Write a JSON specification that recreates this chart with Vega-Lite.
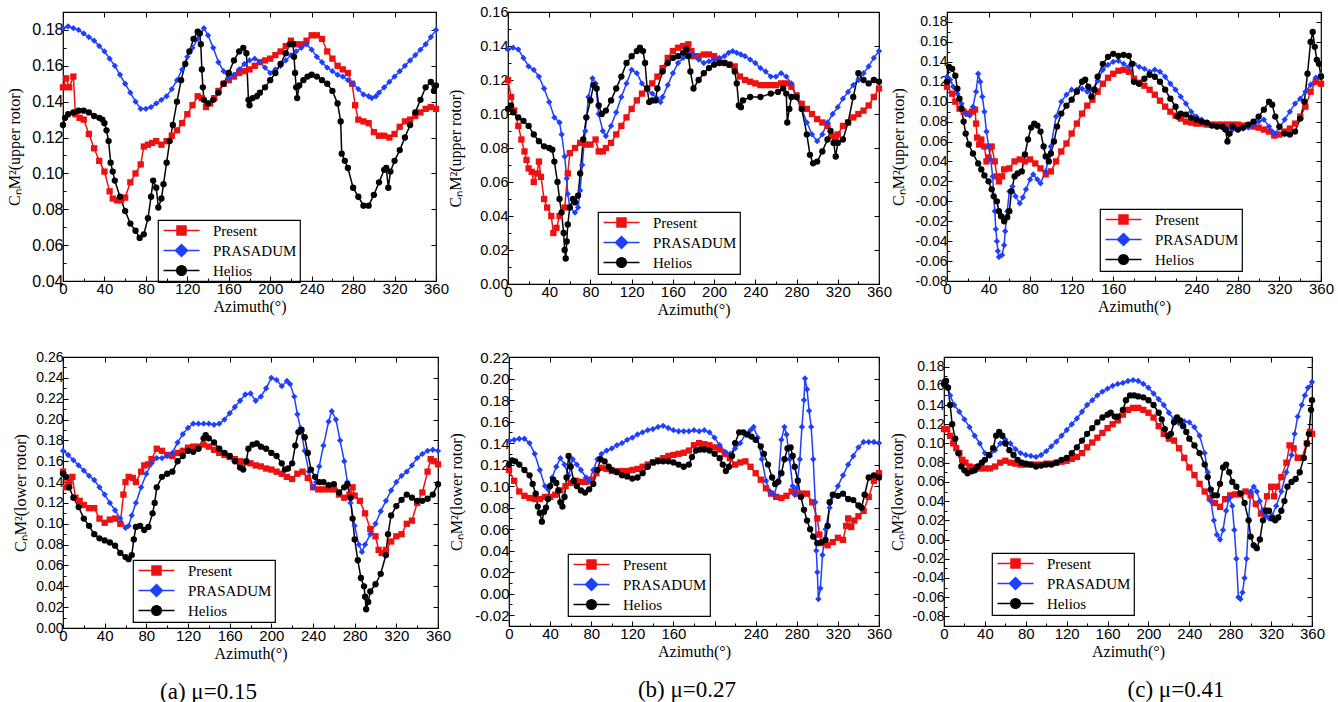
{
  "$schema": "https://vega.github.io/schema/vega-lite/v6.json",
  "background": "white",
  "padding": {"left": 5, "top": 3, "right": 0, "bottom": 0},
  "config": {
    "view": {"stroke": "black", "strokeWidth": 1.2},
    "axis": {
      "labelFont": "Liberation Sans", "labelFontSize": 15, "labelColor": "black",
      "titleFont": "Liberation Serif", "titleFontSize": 16, "titleFontWeight": "normal", "titleColor": "black",
      "domain": false, "tickColor": "black", "tickSize": -5, "tickWidth": 1, "grid": false,
      "labelFlush": false, "labelOverlap": false, "labelPadding": 5, "titlePadding": 2
    },
    "legend": {
      "orient": "none", "strokeColor": "black", "strokeWidth": 1.2, "padding": 3,
      "labelFont": "Liberation Serif", "labelFontSize": 15, "labelColor": "black",
      "symbolSize": 144, "symbolStrokeWidth": 1.5, "symbolOffset": 13, "labelOffset": 24, "rowPadding": 2
    },
    "title": {"font": "Liberation Serif", "fontSize": 23, "fontWeight": "normal", "color": "black"}
  },
  "datasets": {
    "a": [
      {"s":"P","az":0,"cn":0.148},{"s":"P","az":3,"cn":0.153},{"s":"P","az":6,"cn":0.148},{"s":"P","az":10,"cn":0.154},{"s":"P","az":12,"cn":0.133},{"s":"P","az":16,"cn":0.131},{"s":"P","az":20,"cn":0.130},{"s":"P","az":25,"cn":0.122},{"s":"P","az":30,"cn":0.114},{"s":"P","az":35,"cn":0.107},{"s":"P","az":40,"cn":0.101},{"s":"P","az":45,"cn":0.090},{"s":"P","az":48,"cn":0.086},{"s":"P","az":52,"cn":0.085},{"s":"P","az":56,"cn":0.085},{"s":"P","az":60,"cn":0.0865},{"s":"P","az":65,"cn":0.095},{"s":"P","az":70,"cn":0.100},{"s":"P","az":75,"cn":0.105},{"s":"P","az":78,"cn":0.115},{"s":"P","az":82,"cn":0.116},{"s":"P","az":86,"cn":0.117},{"s":"P","az":90,"cn":0.118},{"s":"P","az":95,"cn":0.116},{"s":"P","az":100,"cn":0.118},{"s":"P","az":105,"cn":0.121},{"s":"P","az":110,"cn":0.124},{"s":"P","az":115,"cn":0.128},{"s":"P","az":120,"cn":0.133},{"s":"P","az":125,"cn":0.138},{"s":"P","az":130,"cn":0.143},{"s":"P","az":134,"cn":0.142},{"s":"P","az":138,"cn":0.137},{"s":"P","az":142,"cn":0.139},{"s":"P","az":146,"cn":0.142},{"s":"P","az":150,"cn":0.146},{"s":"P","az":155,"cn":0.150},{"s":"P","az":160,"cn":0.152},{"s":"P","az":165,"cn":0.154},{"s":"P","az":170,"cn":0.156},{"s":"P","az":175,"cn":0.157},{"s":"P","az":180,"cn":0.158},{"s":"P","az":185,"cn":0.160},{"s":"P","az":190,"cn":0.162},{"s":"P","az":195,"cn":0.163},{"s":"P","az":200,"cn":0.164},{"s":"P","az":205,"cn":0.166},{"s":"P","az":210,"cn":0.168},{"s":"P","az":215,"cn":0.171},{"s":"P","az":220,"cn":0.174},{"s":"P","az":225,"cn":0.172},{"s":"P","az":230,"cn":0.172},{"s":"P","az":235,"cn":0.174},{"s":"P","az":240,"cn":0.177},{"s":"P","az":245,"cn":0.177},{"s":"P","az":250,"cn":0.175},{"s":"P","az":255,"cn":0.168},{"s":"P","az":260,"cn":0.164},{"s":"P","az":265,"cn":0.160},{"s":"P","az":270,"cn":0.158},{"s":"P","az":275,"cn":0.156},{"s":"P","az":279,"cn":0.150},{"s":"P","az":282,"cn":0.138},{"s":"P","az":285,"cn":0.130},{"s":"P","az":290,"cn":0.129},{"s":"P","az":295,"cn":0.128},{"s":"P","az":300,"cn":0.123},{"s":"P","az":305,"cn":0.121},{"s":"P","az":310,"cn":0.121},{"s":"P","az":315,"cn":0.120},{"s":"P","az":320,"cn":0.122},{"s":"P","az":325,"cn":0.126},{"s":"P","az":330,"cn":0.129},{"s":"P","az":335,"cn":0.130},{"s":"P","az":340,"cn":0.132},{"s":"P","az":345,"cn":0.134},{"s":"P","az":350,"cn":0.136},{"s":"P","az":355,"cn":0.137},{"s":"P","az":360,"cn":0.136},
      {"s":"R","az":0,"cn":0.181},{"s":"R","az":5,"cn":0.182},{"s":"R","az":10,"cn":0.181},{"s":"R","az":15,"cn":0.180},{"s":"R","az":20,"cn":0.178},{"s":"R","az":25,"cn":0.176},{"s":"R","az":30,"cn":0.174},{"s":"R","az":35,"cn":0.171},{"s":"R","az":40,"cn":0.168},{"s":"R","az":45,"cn":0.164},{"s":"R","az":50,"cn":0.160},{"s":"R","az":55,"cn":0.155},{"s":"R","az":60,"cn":0.150},{"s":"R","az":65,"cn":0.145},{"s":"R","az":70,"cn":0.140},{"s":"R","az":75,"cn":0.136},{"s":"R","az":80,"cn":0.136},{"s":"R","az":85,"cn":0.137},{"s":"R","az":90,"cn":0.139},{"s":"R","az":95,"cn":0.141},{"s":"R","az":100,"cn":0.143},{"s":"R","az":105,"cn":0.147},{"s":"R","az":110,"cn":0.152},{"s":"R","az":115,"cn":0.158},{"s":"R","az":120,"cn":0.165},{"s":"R","az":125,"cn":0.170},{"s":"R","az":130,"cn":0.175},{"s":"R","az":136,"cn":0.181},{"s":"R","az":140,"cn":0.177},{"s":"R","az":145,"cn":0.170},{"s":"R","az":150,"cn":0.162},{"s":"R","az":155,"cn":0.157},{"s":"R","az":160,"cn":0.153},{"s":"R","az":165,"cn":0.155},{"s":"R","az":170,"cn":0.158},{"s":"R","az":175,"cn":0.161},{"s":"R","az":180,"cn":0.163},{"s":"R","az":185,"cn":0.164},{"s":"R","az":190,"cn":0.162},{"s":"R","az":195,"cn":0.159},{"s":"R","az":200,"cn":0.156},{"s":"R","az":205,"cn":0.158},{"s":"R","az":210,"cn":0.160},{"s":"R","az":215,"cn":0.163},{"s":"R","az":220,"cn":0.166},{"s":"R","az":225,"cn":0.168},{"s":"R","az":230,"cn":0.170},{"s":"R","az":235,"cn":0.172},{"s":"R","az":240,"cn":0.169},{"s":"R","az":245,"cn":0.165},{"s":"R","az":250,"cn":0.162},{"s":"R","az":255,"cn":0.159},{"s":"R","az":260,"cn":0.157},{"s":"R","az":265,"cn":0.155},{"s":"R","az":270,"cn":0.154},{"s":"R","az":275,"cn":0.152},{"s":"R","az":280,"cn":0.150},{"s":"R","az":285,"cn":0.147},{"s":"R","az":290,"cn":0.144},{"s":"R","az":295,"cn":0.143},{"s":"R","az":298,"cn":0.142},{"s":"R","az":302,"cn":0.143},{"s":"R","az":305,"cn":0.145},{"s":"R","az":310,"cn":0.148},{"s":"R","az":315,"cn":0.151},{"s":"R","az":320,"cn":0.154},{"s":"R","az":325,"cn":0.157},{"s":"R","az":330,"cn":0.160},{"s":"R","az":335,"cn":0.163},{"s":"R","az":340,"cn":0.166},{"s":"R","az":345,"cn":0.169},{"s":"R","az":350,"cn":0.172},{"s":"R","az":355,"cn":0.176},{"s":"R","az":360,"cn":0.180},
      {"s":"H","az":0,"cn":0.127},{"s":"H","az":2,"cn":0.131},{"s":"H","az":5,"cn":0.133},{"s":"H","az":10,"cn":0.134},{"s":"H","az":15,"cn":0.135},{"s":"H","az":20,"cn":0.135},{"s":"H","az":25,"cn":0.134},{"s":"H","az":30,"cn":0.132},{"s":"H","az":35,"cn":0.131},{"s":"H","az":38,"cn":0.130},{"s":"H","az":40,"cn":0.128},{"s":"H","az":42,"cn":0.124},{"s":"H","az":44,"cn":0.118},{"s":"H","az":46,"cn":0.106},{"s":"H","az":48,"cn":0.101},{"s":"H","az":50,"cn":0.096},{"s":"H","az":55,"cn":0.087},{"s":"H","az":60,"cn":0.079},{"s":"H","az":65,"cn":0.072},{"s":"H","az":70,"cn":0.068},{"s":"H","az":74,"cn":0.064},{"s":"H","az":78,"cn":0.066},{"s":"H","az":82,"cn":0.075},{"s":"H","az":85,"cn":0.087},{"s":"H","az":87,"cn":0.096},{"s":"H","az":90,"cn":0.092},{"s":"H","az":92,"cn":0.081},{"s":"H","az":95,"cn":0.086},{"s":"H","az":97,"cn":0.094},{"s":"H","az":100,"cn":0.106},{"s":"H","az":103,"cn":0.118},{"s":"H","az":106,"cn":0.127},{"s":"H","az":110,"cn":0.140},{"s":"H","az":114,"cn":0.152},{"s":"H","az":118,"cn":0.161},{"s":"H","az":122,"cn":0.168},{"s":"H","az":126,"cn":0.175},{"s":"H","az":130,"cn":0.179},{"s":"H","az":132,"cn":0.178},{"s":"H","az":133,"cn":0.172},{"s":"H","az":134,"cn":0.158},{"s":"H","az":135,"cn":0.148},{"s":"H","az":136,"cn":0.141},{"s":"H","az":140,"cn":0.139},{"s":"H","az":145,"cn":0.141},{"s":"H","az":150,"cn":0.145},{"s":"H","az":155,"cn":0.150},{"s":"H","az":160,"cn":0.156},{"s":"H","az":165,"cn":0.163},{"s":"H","az":170,"cn":0.168},{"s":"H","az":174,"cn":0.170},{"s":"H","az":177,"cn":0.167},{"s":"H","az":179,"cn":0.141},{"s":"H","az":180,"cn":0.138},{"s":"H","az":183,"cn":0.142},{"s":"H","az":187,"cn":0.143},{"s":"H","az":190,"cn":0.145},{"s":"H","az":195,"cn":0.148},{"s":"H","az":200,"cn":0.152},{"s":"H","az":205,"cn":0.156},{"s":"H","az":210,"cn":0.161},{"s":"H","az":215,"cn":0.167},{"s":"H","az":219,"cn":0.172},{"s":"H","az":222,"cn":0.172},{"s":"H","az":223,"cn":0.165},{"s":"H","az":224,"cn":0.156},{"s":"H","az":225,"cn":0.148},{"s":"H","az":226,"cn":0.142},{"s":"H","az":228,"cn":0.149},{"s":"H","az":232,"cn":0.152},{"s":"H","az":236,"cn":0.154},{"s":"H","az":240,"cn":0.155},{"s":"H","az":245,"cn":0.154},{"s":"H","az":250,"cn":0.152},{"s":"H","az":255,"cn":0.150},{"s":"H","az":260,"cn":0.146},{"s":"H","az":265,"cn":0.139},{"s":"H","az":268,"cn":0.129},{"s":"H","az":269,"cn":0.111},{"s":"H","az":272,"cn":0.107},{"s":"H","az":275,"cn":0.103},{"s":"H","az":280,"cn":0.092},{"s":"H","az":285,"cn":0.087},{"s":"H","az":290,"cn":0.082},{"s":"H","az":295,"cn":0.082},{"s":"H","az":300,"cn":0.088},{"s":"H","az":305,"cn":0.095},{"s":"H","az":310,"cn":0.102},{"s":"H","az":312,"cn":0.103},{"s":"H","az":314,"cn":0.092},{"s":"H","az":316,"cn":0.101},{"s":"H","az":320,"cn":0.107},{"s":"H","az":325,"cn":0.113},{"s":"H","az":330,"cn":0.120},{"s":"H","az":335,"cn":0.127},{"s":"H","az":340,"cn":0.134},{"s":"H","az":345,"cn":0.141},{"s":"H","az":350,"cn":0.148},{"s":"H","az":355,"cn":0.151},{"s":"H","az":358,"cn":0.146},{"s":"H","az":360,"cn":0.149}
    ],
    "b": [
      {"s":"P","az":0,"cn":0.120},{"s":"P","az":3,"cn":0.110},{"s":"P","az":6,"cn":0.102},{"s":"P","az":10,"cn":0.093},{"s":"P","az":13,"cn":0.085},{"s":"P","az":16,"cn":0.078},{"s":"P","az":18,"cn":0.073},{"s":"P","az":20,"cn":0.068},{"s":"P","az":23,"cn":0.066},{"s":"P","az":25,"cn":0.060},{"s":"P","az":28,"cn":0.065},{"s":"P","az":30,"cn":0.072},{"s":"P","az":32,"cn":0.063},{"s":"P","az":35,"cn":0.050},{"s":"P","az":38,"cn":0.045},{"s":"P","az":42,"cn":0.040},{"s":"P","az":44,"cn":0.030},{"s":"P","az":47,"cn":0.033},{"s":"P","az":50,"cn":0.040},{"s":"P","az":55,"cn":0.045},{"s":"P","az":58,"cn":0.065},{"s":"P","az":60,"cn":0.077},{"s":"P","az":65,"cn":0.080},{"s":"P","az":70,"cn":0.083},{"s":"P","az":75,"cn":0.082},{"s":"P","az":80,"cn":0.082},{"s":"P","az":85,"cn":0.085},{"s":"P","az":88,"cn":0.078},{"s":"P","az":92,"cn":0.078},{"s":"P","az":95,"cn":0.080},{"s":"P","az":100,"cn":0.083},{"s":"P","az":105,"cn":0.088},{"s":"P","az":110,"cn":0.093},{"s":"P","az":115,"cn":0.098},{"s":"P","az":120,"cn":0.103},{"s":"P","az":125,"cn":0.108},{"s":"P","az":130,"cn":0.112},{"s":"P","az":135,"cn":0.115},{"s":"P","az":140,"cn":0.118},{"s":"P","az":145,"cn":0.122},{"s":"P","az":150,"cn":0.127},{"s":"P","az":155,"cn":0.133},{"s":"P","az":160,"cn":0.137},{"s":"P","az":165,"cn":0.139},{"s":"P","az":170,"cn":0.140},{"s":"P","az":175,"cn":0.141},{"s":"P","az":178,"cn":0.137},{"s":"P","az":180,"cn":0.134},{"s":"P","az":185,"cn":0.134},{"s":"P","az":190,"cn":0.135},{"s":"P","az":195,"cn":0.135},{"s":"P","az":200,"cn":0.134},{"s":"P","az":205,"cn":0.132},{"s":"P","az":210,"cn":0.130},{"s":"P","az":215,"cn":0.129},{"s":"P","az":220,"cn":0.128},{"s":"P","az":225,"cn":0.122},{"s":"P","az":230,"cn":0.120},{"s":"P","az":235,"cn":0.119},{"s":"P","az":240,"cn":0.118},{"s":"P","az":245,"cn":0.117},{"s":"P","az":250,"cn":0.117},{"s":"P","az":255,"cn":0.117},{"s":"P","az":260,"cn":0.117},{"s":"P","az":265,"cn":0.118},{"s":"P","az":270,"cn":0.118},{"s":"P","az":275,"cn":0.116},{"s":"P","az":280,"cn":0.111},{"s":"P","az":285,"cn":0.106},{"s":"P","az":290,"cn":0.103},{"s":"P","az":295,"cn":0.100},{"s":"P","az":300,"cn":0.097},{"s":"P","az":305,"cn":0.095},{"s":"P","az":310,"cn":0.093},{"s":"P","az":315,"cn":0.087},{"s":"P","az":318,"cn":0.085},{"s":"P","az":320,"cn":0.088},{"s":"P","az":325,"cn":0.093},{"s":"P","az":330,"cn":0.095},{"s":"P","az":335,"cn":0.098},{"s":"P","az":340,"cn":0.100},{"s":"P","az":345,"cn":0.102},{"s":"P","az":350,"cn":0.105},{"s":"P","az":355,"cn":0.110},{"s":"P","az":360,"cn":0.115},
      {"s":"R","az":0,"cn":0.138},{"s":"R","az":5,"cn":0.139},{"s":"R","az":10,"cn":0.138},{"s":"R","az":15,"cn":0.133},{"s":"R","az":20,"cn":0.128},{"s":"R","az":25,"cn":0.126},{"s":"R","az":30,"cn":0.122},{"s":"R","az":35,"cn":0.115},{"s":"R","az":40,"cn":0.107},{"s":"R","az":45,"cn":0.098},{"s":"R","az":50,"cn":0.095},{"s":"R","az":52,"cn":0.088},{"s":"R","az":55,"cn":0.075},{"s":"R","az":57,"cn":0.062},{"s":"R","az":58,"cn":0.053},{"s":"R","az":60,"cn":0.045},{"s":"R","az":65,"cn":0.042},{"s":"R","az":68,"cn":0.045},{"s":"R","az":70,"cn":0.055},{"s":"R","az":72,"cn":0.070},{"s":"R","az":75,"cn":0.090},{"s":"R","az":78,"cn":0.110},{"s":"R","az":82,"cn":0.121},{"s":"R","az":85,"cn":0.118},{"s":"R","az":88,"cn":0.100},{"s":"R","az":92,"cn":0.090},{"s":"R","az":95,"cn":0.087},{"s":"R","az":100,"cn":0.093},{"s":"R","az":105,"cn":0.101},{"s":"R","az":110,"cn":0.110},{"s":"R","az":115,"cn":0.118},{"s":"R","az":120,"cn":0.126},{"s":"R","az":125,"cn":0.124},{"s":"R","az":130,"cn":0.118},{"s":"R","az":135,"cn":0.114},{"s":"R","az":140,"cn":0.112},{"s":"R","az":145,"cn":0.109},{"s":"R","az":148,"cn":0.107},{"s":"R","az":150,"cn":0.110},{"s":"R","az":155,"cn":0.117},{"s":"R","az":160,"cn":0.124},{"s":"R","az":165,"cn":0.130},{"s":"R","az":170,"cn":0.133},{"s":"R","az":175,"cn":0.135},{"s":"R","az":180,"cn":0.135},{"s":"R","az":185,"cn":0.132},{"s":"R","az":190,"cn":0.130},{"s":"R","az":195,"cn":0.131},{"s":"R","az":200,"cn":0.132},{"s":"R","az":205,"cn":0.133},{"s":"R","az":210,"cn":0.134},{"s":"R","az":214,"cn":0.136},{"s":"R","az":218,"cn":0.137},{"s":"R","az":222,"cn":0.136},{"s":"R","az":226,"cn":0.135},{"s":"R","az":230,"cn":0.134},{"s":"R","az":235,"cn":0.132},{"s":"R","az":240,"cn":0.130},{"s":"R","az":245,"cn":0.127},{"s":"R","az":250,"cn":0.125},{"s":"R","az":255,"cn":0.122},{"s":"R","az":260,"cn":0.122},{"s":"R","az":265,"cn":0.124},{"s":"R","az":270,"cn":0.122},{"s":"R","az":275,"cn":0.118},{"s":"R","az":280,"cn":0.110},{"s":"R","az":285,"cn":0.103},{"s":"R","az":290,"cn":0.095},{"s":"R","az":295,"cn":0.088},{"s":"R","az":300,"cn":0.084},{"s":"R","az":305,"cn":0.088},{"s":"R","az":310,"cn":0.095},{"s":"R","az":315,"cn":0.100},{"s":"R","az":320,"cn":0.104},{"s":"R","az":325,"cn":0.109},{"s":"R","az":330,"cn":0.113},{"s":"R","az":335,"cn":0.117},{"s":"R","az":340,"cn":0.120},{"s":"R","az":345,"cn":0.124},{"s":"R","az":350,"cn":0.128},{"s":"R","az":355,"cn":0.133},{"s":"R","az":360,"cn":0.137},
      {"s":"H","az":0,"cn":0.103},{"s":"H","az":3,"cn":0.105},{"s":"H","az":5,"cn":0.101},{"s":"H","az":10,"cn":0.098},{"s":"H","az":15,"cn":0.096},{"s":"H","az":20,"cn":0.093},{"s":"H","az":25,"cn":0.088},{"s":"H","az":30,"cn":0.084},{"s":"H","az":35,"cn":0.081},{"s":"H","az":40,"cn":0.080},{"s":"H","az":43,"cn":0.079},{"s":"H","az":45,"cn":0.072},{"s":"H","az":48,"cn":0.060},{"s":"H","az":50,"cn":0.050},{"s":"H","az":52,"cn":0.042},{"s":"H","az":54,"cn":0.030},{"s":"H","az":55,"cn":0.020},{"s":"H","az":56,"cn":0.015},{"s":"H","az":57,"cn":0.025},{"s":"H","az":58,"cn":0.035},{"s":"H","az":60,"cn":0.045},{"s":"H","az":63,"cn":0.050},{"s":"H","az":65,"cn":0.048},{"s":"H","az":68,"cn":0.052},{"s":"H","az":70,"cn":0.065},{"s":"H","az":73,"cn":0.085},{"s":"H","az":76,"cn":0.098},{"s":"H","az":80,"cn":0.108},{"s":"H","az":83,"cn":0.117},{"s":"H","az":86,"cn":0.115},{"s":"H","az":88,"cn":0.105},{"s":"H","az":91,"cn":0.100},{"s":"H","az":95,"cn":0.102},{"s":"H","az":100,"cn":0.108},{"s":"H","az":105,"cn":0.115},{"s":"H","az":110,"cn":0.122},{"s":"H","az":115,"cn":0.130},{"s":"H","az":120,"cn":0.134},{"s":"H","az":125,"cn":0.137},{"s":"H","az":128,"cn":0.139},{"s":"H","az":131,"cn":0.137},{"s":"H","az":133,"cn":0.130},{"s":"H","az":135,"cn":0.115},{"s":"H","az":137,"cn":0.107},{"s":"H","az":140,"cn":0.108},{"s":"H","az":143,"cn":0.108},{"s":"H","az":145,"cn":0.115},{"s":"H","az":150,"cn":0.125},{"s":"H","az":155,"cn":0.130},{"s":"H","az":160,"cn":0.133},{"s":"H","az":165,"cn":0.134},{"s":"H","az":170,"cn":0.136},{"s":"H","az":173,"cn":0.138},{"s":"H","az":175,"cn":0.134},{"s":"H","az":177,"cn":0.125},{"s":"H","az":180,"cn":0.115},{"s":"H","az":185,"cn":0.120},{"s":"H","az":190,"cn":0.124},{"s":"H","az":195,"cn":0.127},{"s":"H","az":200,"cn":0.129},{"s":"H","az":205,"cn":0.130},{"s":"H","az":210,"cn":0.130},{"s":"H","az":215,"cn":0.129},{"s":"H","az":220,"cn":0.125},{"s":"H","az":222,"cn":0.118},{"s":"H","az":224,"cn":0.105},{"s":"H","az":226,"cn":0.104},{"s":"H","az":228,"cn":0.108},{"s":"H","az":235,"cn":0.110},{"s":"H","az":245,"cn":0.110},{"s":"H","az":255,"cn":0.112},{"s":"H","az":262,"cn":0.113},{"s":"H","az":267,"cn":0.115},{"s":"H","az":270,"cn":0.112},{"s":"H","az":271,"cn":0.095},{"s":"H","az":273,"cn":0.103},{"s":"H","az":275,"cn":0.110},{"s":"H","az":280,"cn":0.110},{"s":"H","az":285,"cn":0.103},{"s":"H","az":290,"cn":0.088},{"s":"H","az":293,"cn":0.076},{"s":"H","az":296,"cn":0.071},{"s":"H","az":300,"cn":0.072},{"s":"H","az":305,"cn":0.078},{"s":"H","az":310,"cn":0.085},{"s":"H","az":313,"cn":0.090},{"s":"H","az":316,"cn":0.083},{"s":"H","az":318,"cn":0.075},{"s":"H","az":320,"cn":0.083},{"s":"H","az":325,"cn":0.085},{"s":"H","az":330,"cn":0.095},{"s":"H","az":335,"cn":0.110},{"s":"H","az":340,"cn":0.124},{"s":"H","az":345,"cn":0.120},{"s":"H","az":350,"cn":0.118},{"s":"H","az":355,"cn":0.120},{"s":"H","az":360,"cn":0.119}
    ],
    "c": [
      {"s":"P","az":0,"cn":0.115},{"s":"P","az":5,"cn":0.108},{"s":"P","az":8,"cn":0.100},{"s":"P","az":12,"cn":0.093},{"s":"P","az":16,"cn":0.090},{"s":"P","az":20,"cn":0.088},{"s":"P","az":24,"cn":0.090},{"s":"P","az":27,"cn":0.092},{"s":"P","az":28,"cn":0.078},{"s":"P","az":29,"cn":0.064},{"s":"P","az":31,"cn":0.057},{"s":"P","az":33,"cn":0.062},{"s":"P","az":36,"cn":0.055},{"s":"P","az":38,"cn":0.040},{"s":"P","az":40,"cn":0.044},{"s":"P","az":43,"cn":0.055},{"s":"P","az":46,"cn":0.040},{"s":"P","az":48,"cn":0.025},{"s":"P","az":50,"cn":0.020},{"s":"P","az":53,"cn":0.025},{"s":"P","az":55,"cn":0.032},{"s":"P","az":60,"cn":0.033},{"s":"P","az":65,"cn":0.040},{"s":"P","az":70,"cn":0.042},{"s":"P","az":75,"cn":0.040},{"s":"P","az":80,"cn":0.042},{"s":"P","az":85,"cn":0.038},{"s":"P","az":90,"cn":0.033},{"s":"P","az":95,"cn":0.027},{"s":"P","az":100,"cn":0.030},{"s":"P","az":105,"cn":0.040},{"s":"P","az":110,"cn":0.050},{"s":"P","az":115,"cn":0.058},{"s":"P","az":120,"cn":0.068},{"s":"P","az":125,"cn":0.078},{"s":"P","az":130,"cn":0.088},{"s":"P","az":135,"cn":0.096},{"s":"P","az":140,"cn":0.102},{"s":"P","az":145,"cn":0.110},{"s":"P","az":150,"cn":0.118},{"s":"P","az":155,"cn":0.124},{"s":"P","az":160,"cn":0.128},{"s":"P","az":165,"cn":0.131},{"s":"P","az":170,"cn":0.132},{"s":"P","az":175,"cn":0.130},{"s":"P","az":180,"cn":0.123},{"s":"P","az":185,"cn":0.119},{"s":"P","az":190,"cn":0.116},{"s":"P","az":195,"cn":0.112},{"s":"P","az":200,"cn":0.107},{"s":"P","az":205,"cn":0.101},{"s":"P","az":210,"cn":0.095},{"s":"P","az":215,"cn":0.090},{"s":"P","az":220,"cn":0.086},{"s":"P","az":225,"cn":0.083},{"s":"P","az":230,"cn":0.080},{"s":"P","az":235,"cn":0.079},{"s":"P","az":240,"cn":0.078},{"s":"P","az":245,"cn":0.078},{"s":"P","az":250,"cn":0.077},{"s":"P","az":255,"cn":0.077},{"s":"P","az":260,"cn":0.077},{"s":"P","az":265,"cn":0.077},{"s":"P","az":270,"cn":0.077},{"s":"P","az":275,"cn":0.077},{"s":"P","az":280,"cn":0.077},{"s":"P","az":285,"cn":0.076},{"s":"P","az":290,"cn":0.076},{"s":"P","az":295,"cn":0.075},{"s":"P","az":300,"cn":0.074},{"s":"P","az":305,"cn":0.072},{"s":"P","az":310,"cn":0.070},{"s":"P","az":315,"cn":0.066},{"s":"P","az":320,"cn":0.067},{"s":"P","az":325,"cn":0.070},{"s":"P","az":330,"cn":0.073},{"s":"P","az":335,"cn":0.078},{"s":"P","az":340,"cn":0.085},{"s":"P","az":345,"cn":0.095},{"s":"P","az":350,"cn":0.110},{"s":"P","az":355,"cn":0.120},{"s":"P","az":360,"cn":0.118},
      {"s":"R","az":0,"cn":0.125},{"s":"R","az":3,"cn":0.122},{"s":"R","az":6,"cn":0.115},{"s":"R","az":10,"cn":0.108},{"s":"R","az":14,"cn":0.098},{"s":"R","az":18,"cn":0.088},{"s":"R","az":22,"cn":0.086},{"s":"R","az":25,"cn":0.095},{"s":"R","az":28,"cn":0.110},{"s":"R","az":30,"cn":0.128},{"s":"R","az":32,"cn":0.120},{"s":"R","az":34,"cn":0.105},{"s":"R","az":36,"cn":0.090},{"s":"R","az":38,"cn":0.070},{"s":"R","az":40,"cn":0.055},{"s":"R","az":42,"cn":0.042},{"s":"R","az":44,"cn":0.025},{"s":"R","az":45,"cn":0.005},{"s":"R","az":46,"cn":-0.010},{"s":"R","az":47,"cn":-0.028},{"s":"R","az":48,"cn":-0.040},{"s":"R","az":49,"cn":-0.050},{"s":"R","az":50,"cn":-0.056},{"s":"R","az":53,"cn":-0.054},{"s":"R","az":55,"cn":-0.044},{"s":"R","az":56,"cn":-0.030},{"s":"R","az":58,"cn":-0.010},{"s":"R","az":60,"cn":0.010},{"s":"R","az":63,"cn":0.015},{"s":"R","az":66,"cn":0.005},{"s":"R","az":70,"cn":-0.002},{"s":"R","az":73,"cn":0.004},{"s":"R","az":76,"cn":0.012},{"s":"R","az":80,"cn":0.022},{"s":"R","az":83,"cn":0.027},{"s":"R","az":87,"cn":0.022},{"s":"R","az":90,"cn":0.018},{"s":"R","az":95,"cn":0.030},{"s":"R","az":100,"cn":0.055},{"s":"R","az":105,"cn":0.085},{"s":"R","az":110,"cn":0.100},{"s":"R","az":115,"cn":0.107},{"s":"R","az":120,"cn":0.112},{"s":"R","az":125,"cn":0.112},{"s":"R","az":130,"cn":0.113},{"s":"R","az":135,"cn":0.110},{"s":"R","az":140,"cn":0.112},{"s":"R","az":145,"cn":0.121},{"s":"R","az":150,"cn":0.132},{"s":"R","az":155,"cn":0.137},{"s":"R","az":160,"cn":0.140},{"s":"R","az":165,"cn":0.141},{"s":"R","az":170,"cn":0.138},{"s":"R","az":175,"cn":0.135},{"s":"R","az":180,"cn":0.138},{"s":"R","az":185,"cn":0.135},{"s":"R","az":190,"cn":0.133},{"s":"R","az":195,"cn":0.130},{"s":"R","az":200,"cn":0.132},{"s":"R","az":205,"cn":0.130},{"s":"R","az":210,"cn":0.125},{"s":"R","az":215,"cn":0.118},{"s":"R","az":220,"cn":0.112},{"s":"R","az":225,"cn":0.105},{"s":"R","az":230,"cn":0.098},{"s":"R","az":235,"cn":0.090},{"s":"R","az":240,"cn":0.085},{"s":"R","az":245,"cn":0.082},{"s":"R","az":250,"cn":0.078},{"s":"R","az":255,"cn":0.076},{"s":"R","az":260,"cn":0.075},{"s":"R","az":265,"cn":0.074},{"s":"R","az":270,"cn":0.073},{"s":"R","az":275,"cn":0.072},{"s":"R","az":280,"cn":0.072},{"s":"R","az":285,"cn":0.073},{"s":"R","az":290,"cn":0.074},{"s":"R","az":295,"cn":0.077},{"s":"R","az":300,"cn":0.080},{"s":"R","az":305,"cn":0.082},{"s":"R","az":310,"cn":0.075},{"s":"R","az":313,"cn":0.070},{"s":"R","az":316,"cn":0.068},{"s":"R","az":320,"cn":0.074},{"s":"R","az":325,"cn":0.082},{"s":"R","az":330,"cn":0.090},{"s":"R","az":335,"cn":0.098},{"s":"R","az":340,"cn":0.103},{"s":"R","az":345,"cn":0.110},{"s":"R","az":350,"cn":0.117},{"s":"R","az":355,"cn":0.124},{"s":"R","az":360,"cn":0.127},
      {"s":"H","az":0,"cn":0.120},{"s":"H","az":2,"cn":0.135},{"s":"H","az":5,"cn":0.133},{"s":"H","az":8,"cn":0.126},{"s":"H","az":10,"cn":0.113},{"s":"H","az":12,"cn":0.103},{"s":"H","az":14,"cn":0.093},{"s":"H","az":16,"cn":0.080},{"s":"H","az":18,"cn":0.068},{"s":"H","az":21,"cn":0.057},{"s":"H","az":25,"cn":0.048},{"s":"H","az":30,"cn":0.038},{"s":"H","az":33,"cn":0.032},{"s":"H","az":36,"cn":0.026},{"s":"H","az":40,"cn":0.020},{"s":"H","az":43,"cn":0.012},{"s":"H","az":45,"cn":0.005},{"s":"H","az":48,"cn":0.000},{"s":"H","az":50,"cn":-0.010},{"s":"H","az":52,"cn":-0.015},{"s":"H","az":55,"cn":-0.020},{"s":"H","az":58,"cn":-0.016},{"s":"H","az":60,"cn":-0.010},{"s":"H","az":62,"cn":0.010},{"s":"H","az":65,"cn":0.025},{"s":"H","az":68,"cn":0.028},{"s":"H","az":72,"cn":0.030},{"s":"H","az":75,"cn":0.047},{"s":"H","az":78,"cn":0.062},{"s":"H","az":81,"cn":0.074},{"s":"H","az":84,"cn":0.078},{"s":"H","az":87,"cn":0.076},{"s":"H","az":90,"cn":0.070},{"s":"H","az":93,"cn":0.055},{"s":"H","az":95,"cn":0.045},{"s":"H","az":98,"cn":0.040},{"s":"H","az":100,"cn":0.048},{"s":"H","az":103,"cn":0.060},{"s":"H","az":106,"cn":0.075},{"s":"H","az":110,"cn":0.088},{"s":"H","az":115,"cn":0.096},{"s":"H","az":120,"cn":0.102},{"s":"H","az":125,"cn":0.110},{"s":"H","az":130,"cn":0.120},{"s":"H","az":133,"cn":0.122},{"s":"H","az":136,"cn":0.115},{"s":"H","az":139,"cn":0.105},{"s":"H","az":142,"cn":0.112},{"s":"H","az":145,"cn":0.125},{"s":"H","az":150,"cn":0.138},{"s":"H","az":155,"cn":0.145},{"s":"H","az":160,"cn":0.148},{"s":"H","az":165,"cn":0.146},{"s":"H","az":170,"cn":0.147},{"s":"H","az":175,"cn":0.146},{"s":"H","az":178,"cn":0.138},{"s":"H","az":180,"cn":0.120},{"s":"H","az":185,"cn":0.118},{"s":"H","az":190,"cn":0.123},{"s":"H","az":195,"cn":0.127},{"s":"H","az":200,"cn":0.125},{"s":"H","az":205,"cn":0.120},{"s":"H","az":210,"cn":0.112},{"s":"H","az":215,"cn":0.103},{"s":"H","az":220,"cn":0.095},{"s":"H","az":222,"cn":0.085},{"s":"H","az":225,"cn":0.088},{"s":"H","az":230,"cn":0.087},{"s":"H","az":235,"cn":0.084},{"s":"H","az":240,"cn":0.082},{"s":"H","az":245,"cn":0.080},{"s":"H","az":250,"cn":0.079},{"s":"H","az":255,"cn":0.076},{"s":"H","az":260,"cn":0.075},{"s":"H","az":265,"cn":0.075},{"s":"H","az":268,"cn":0.072},{"s":"H","az":270,"cn":0.060},{"s":"H","az":272,"cn":0.068},{"s":"H","az":275,"cn":0.075},{"s":"H","az":280,"cn":0.072},{"s":"H","az":285,"cn":0.074},{"s":"H","az":290,"cn":0.077},{"s":"H","az":295,"cn":0.080},{"s":"H","az":300,"cn":0.085},{"s":"H","az":305,"cn":0.092},{"s":"H","az":310,"cn":0.100},{"s":"H","az":313,"cn":0.097},{"s":"H","az":316,"cn":0.085},{"s":"H","az":320,"cn":0.075},{"s":"H","az":325,"cn":0.068},{"s":"H","az":330,"cn":0.067},{"s":"H","az":335,"cn":0.070},{"s":"H","az":340,"cn":0.083},{"s":"H","az":344,"cn":0.100},{"s":"H","az":347,"cn":0.128},{"s":"H","az":350,"cn":0.160},{"s":"H","az":352,"cn":0.170},{"s":"H","az":354,"cn":0.155},{"s":"H","az":356,"cn":0.142},{"s":"H","az":358,"cn":0.138},{"s":"H","az":360,"cn":0.125}
    ],
    "d": [
      {"s":"P","az":0,"cn":0.150},{"s":"P","az":3,"cn":0.135},{"s":"P","az":6,"cn":0.140},{"s":"P","az":9,"cn":0.145},{"s":"P","az":12,"cn":0.125},{"s":"P","az":16,"cn":0.122},{"s":"P","az":20,"cn":0.118},{"s":"P","az":25,"cn":0.115},{"s":"P","az":30,"cn":0.115},{"s":"P","az":35,"cn":0.105},{"s":"P","az":40,"cn":0.101},{"s":"P","az":45,"cn":0.104},{"s":"P","az":50,"cn":0.105},{"s":"P","az":55,"cn":0.100},{"s":"P","az":58,"cn":0.128},{"s":"P","az":60,"cn":0.140},{"s":"P","az":63,"cn":0.145},{"s":"P","az":67,"cn":0.144},{"s":"P","az":70,"cn":0.140},{"s":"P","az":75,"cn":0.150},{"s":"P","az":78,"cn":0.156},{"s":"P","az":82,"cn":0.157},{"s":"P","az":85,"cn":0.162},{"s":"P","az":90,"cn":0.172},{"s":"P","az":95,"cn":0.170},{"s":"P","az":100,"cn":0.166},{"s":"P","az":105,"cn":0.165},{"s":"P","az":110,"cn":0.168},{"s":"P","az":115,"cn":0.170},{"s":"P","az":120,"cn":0.173},{"s":"P","az":125,"cn":0.174},{"s":"P","az":130,"cn":0.174},{"s":"P","az":135,"cn":0.176},{"s":"P","az":140,"cn":0.174},{"s":"P","az":145,"cn":0.171},{"s":"P","az":150,"cn":0.168},{"s":"P","az":155,"cn":0.166},{"s":"P","az":160,"cn":0.164},{"s":"P","az":165,"cn":0.162},{"s":"P","az":170,"cn":0.160},{"s":"P","az":175,"cn":0.159},{"s":"P","az":180,"cn":0.158},{"s":"P","az":185,"cn":0.156},{"s":"P","az":190,"cn":0.155},{"s":"P","az":195,"cn":0.153},{"s":"P","az":200,"cn":0.152},{"s":"P","az":205,"cn":0.150},{"s":"P","az":210,"cn":0.148},{"s":"P","az":215,"cn":0.145},{"s":"P","az":220,"cn":0.143},{"s":"P","az":225,"cn":0.148},{"s":"P","az":230,"cn":0.150},{"s":"P","az":235,"cn":0.144},{"s":"P","az":240,"cn":0.135},{"s":"P","az":245,"cn":0.133},{"s":"P","az":250,"cn":0.133},{"s":"P","az":255,"cn":0.133},{"s":"P","az":260,"cn":0.133},{"s":"P","az":265,"cn":0.128},{"s":"P","az":270,"cn":0.125},{"s":"P","az":275,"cn":0.128},{"s":"P","az":278,"cn":0.135},{"s":"P","az":280,"cn":0.127},{"s":"P","az":285,"cn":0.122},{"s":"P","az":290,"cn":0.110},{"s":"P","az":295,"cn":0.095},{"s":"P","az":300,"cn":0.088},{"s":"P","az":303,"cn":0.075},{"s":"P","az":306,"cn":0.072},{"s":"P","az":310,"cn":0.075},{"s":"P","az":315,"cn":0.083},{"s":"P","az":320,"cn":0.088},{"s":"P","az":325,"cn":0.090},{"s":"P","az":330,"cn":0.100},{"s":"P","az":335,"cn":0.103},{"s":"P","az":340,"cn":0.120},{"s":"P","az":345,"cn":0.130},{"s":"P","az":350,"cn":0.150},{"s":"P","az":353,"cn":0.162},{"s":"P","az":356,"cn":0.160},{"s":"P","az":360,"cn":0.157},
      {"s":"R","az":0,"cn":0.170},{"s":"R","az":5,"cn":0.166},{"s":"R","az":10,"cn":0.161},{"s":"R","az":15,"cn":0.156},{"s":"R","az":20,"cn":0.151},{"s":"R","az":25,"cn":0.146},{"s":"R","az":30,"cn":0.142},{"s":"R","az":35,"cn":0.135},{"s":"R","az":40,"cn":0.128},{"s":"R","az":45,"cn":0.120},{"s":"R","az":50,"cn":0.113},{"s":"R","az":55,"cn":0.105},{"s":"R","az":60,"cn":0.096},{"s":"R","az":63,"cn":0.098},{"s":"R","az":66,"cn":0.108},{"s":"R","az":70,"cn":0.120},{"s":"R","az":75,"cn":0.135},{"s":"R","az":80,"cn":0.148},{"s":"R","az":85,"cn":0.158},{"s":"R","az":90,"cn":0.163},{"s":"R","az":95,"cn":0.163},{"s":"R","az":100,"cn":0.165},{"s":"R","az":105,"cn":0.168},{"s":"R","az":110,"cn":0.178},{"s":"R","az":115,"cn":0.186},{"s":"R","az":120,"cn":0.192},{"s":"R","az":125,"cn":0.196},{"s":"R","az":130,"cn":0.196},{"s":"R","az":135,"cn":0.196},{"s":"R","az":140,"cn":0.196},{"s":"R","az":145,"cn":0.195},{"s":"R","az":150,"cn":0.196},{"s":"R","az":155,"cn":0.200},{"s":"R","az":160,"cn":0.206},{"s":"R","az":165,"cn":0.212},{"s":"R","az":170,"cn":0.218},{"s":"R","az":175,"cn":0.224},{"s":"R","az":180,"cn":0.225},{"s":"R","az":185,"cn":0.218},{"s":"R","az":190,"cn":0.222},{"s":"R","az":195,"cn":0.230},{"s":"R","az":200,"cn":0.240},{"s":"R","az":205,"cn":0.238},{"s":"R","az":210,"cn":0.232},{"s":"R","az":215,"cn":0.237},{"s":"R","az":218,"cn":0.234},{"s":"R","az":222,"cn":0.222},{"s":"R","az":225,"cn":0.205},{"s":"R","az":228,"cn":0.192},{"s":"R","az":232,"cn":0.170},{"s":"R","az":236,"cn":0.150},{"s":"R","az":240,"cn":0.135},{"s":"R","az":243,"cn":0.140},{"s":"R","az":246,"cn":0.155},{"s":"R","az":250,"cn":0.175},{"s":"R","az":255,"cn":0.198},{"s":"R","az":258,"cn":0.208},{"s":"R","az":262,"cn":0.200},{"s":"R","az":266,"cn":0.180},{"s":"R","az":270,"cn":0.160},{"s":"R","az":273,"cn":0.140},{"s":"R","az":276,"cn":0.120},{"s":"R","az":280,"cn":0.098},{"s":"R","az":284,"cn":0.080},{"s":"R","az":287,"cn":0.073},{"s":"R","az":290,"cn":0.080},{"s":"R","az":295,"cn":0.090},{"s":"R","az":300,"cn":0.100},{"s":"R","az":305,"cn":0.112},{"s":"R","az":310,"cn":0.122},{"s":"R","az":315,"cn":0.132},{"s":"R","az":320,"cn":0.140},{"s":"R","az":325,"cn":0.146},{"s":"R","az":330,"cn":0.150},{"s":"R","az":335,"cn":0.156},{"s":"R","az":340,"cn":0.163},{"s":"R","az":345,"cn":0.167},{"s":"R","az":350,"cn":0.170},{"s":"R","az":355,"cn":0.171},{"s":"R","az":360,"cn":0.170},
      {"s":"H","az":0,"cn":0.148},{"s":"H","az":3,"cn":0.145},{"s":"H","az":6,"cn":0.135},{"s":"H","az":10,"cn":0.125},{"s":"H","az":15,"cn":0.116},{"s":"H","az":20,"cn":0.105},{"s":"H","az":25,"cn":0.098},{"s":"H","az":30,"cn":0.090},{"s":"H","az":35,"cn":0.086},{"s":"H","az":40,"cn":0.084},{"s":"H","az":45,"cn":0.082},{"s":"H","az":50,"cn":0.079},{"s":"H","az":55,"cn":0.072},{"s":"H","az":60,"cn":0.068},{"s":"H","az":63,"cn":0.066},{"s":"H","az":66,"cn":0.070},{"s":"H","az":68,"cn":0.085},{"s":"H","az":70,"cn":0.097},{"s":"H","az":74,"cn":0.098},{"s":"H","az":78,"cn":0.094},{"s":"H","az":82,"cn":0.097},{"s":"H","az":86,"cn":0.110},{"s":"H","az":88,"cn":0.120},{"s":"H","az":90,"cn":0.135},{"s":"H","az":95,"cn":0.145},{"s":"H","az":100,"cn":0.148},{"s":"H","az":105,"cn":0.150},{"s":"H","az":110,"cn":0.160},{"s":"H","az":115,"cn":0.165},{"s":"H","az":120,"cn":0.170},{"s":"H","az":125,"cn":0.169},{"s":"H","az":130,"cn":0.172},{"s":"H","az":135,"cn":0.182},{"s":"H","az":137,"cn":0.185},{"s":"H","az":140,"cn":0.182},{"s":"H","az":145,"cn":0.178},{"s":"H","az":150,"cn":0.172},{"s":"H","az":155,"cn":0.168},{"s":"H","az":160,"cn":0.165},{"s":"H","az":165,"cn":0.160},{"s":"H","az":170,"cn":0.154},{"s":"H","az":173,"cn":0.152},{"s":"H","az":176,"cn":0.160},{"s":"H","az":178,"cn":0.172},{"s":"H","az":182,"cn":0.176},{"s":"H","az":186,"cn":0.177},{"s":"H","az":190,"cn":0.174},{"s":"H","az":195,"cn":0.172},{"s":"H","az":200,"cn":0.168},{"s":"H","az":205,"cn":0.165},{"s":"H","az":210,"cn":0.158},{"s":"H","az":213,"cn":0.152},{"s":"H","az":216,"cn":0.153},{"s":"H","az":220,"cn":0.158},{"s":"H","az":223,"cn":0.175},{"s":"H","az":226,"cn":0.188},{"s":"H","az":229,"cn":0.190},{"s":"H","az":232,"cn":0.183},{"s":"H","az":235,"cn":0.168},{"s":"H","az":238,"cn":0.152},{"s":"H","az":242,"cn":0.145},{"s":"H","az":246,"cn":0.140},{"s":"H","az":250,"cn":0.140},{"s":"H","az":255,"cn":0.137},{"s":"H","az":260,"cn":0.138},{"s":"H","az":265,"cn":0.130},{"s":"H","az":270,"cn":0.135},{"s":"H","az":273,"cn":0.138},{"s":"H","az":276,"cn":0.125},{"s":"H","az":278,"cn":0.105},{"s":"H","az":280,"cn":0.085},{"s":"H","az":283,"cn":0.065},{"s":"H","az":286,"cn":0.048},{"s":"H","az":289,"cn":0.040},{"s":"H","az":290,"cn":0.030},{"s":"H","az":291,"cn":0.018},{"s":"H","az":293,"cn":0.025},{"s":"H","az":295,"cn":0.035},{"s":"H","az":300,"cn":0.042},{"s":"H","az":305,"cn":0.052},{"s":"H","az":310,"cn":0.070},{"s":"H","az":312,"cn":0.090},{"s":"H","az":315,"cn":0.108},{"s":"H","az":320,"cn":0.117},{"s":"H","az":325,"cn":0.123},{"s":"H","az":330,"cn":0.128},{"s":"H","az":335,"cn":0.125},{"s":"H","az":340,"cn":0.122},{"s":"H","az":345,"cn":0.122},{"s":"H","az":350,"cn":0.124},{"s":"H","az":355,"cn":0.128},{"s":"H","az":360,"cn":0.138}
    ],
    "e": [
      {"s":"P","az":0,"cn":0.115},{"s":"P","az":5,"cn":0.105},{"s":"P","az":10,"cn":0.095},{"s":"P","az":15,"cn":0.091},{"s":"P","az":20,"cn":0.089},{"s":"P","az":25,"cn":0.088},{"s":"P","az":30,"cn":0.088},{"s":"P","az":35,"cn":0.090},{"s":"P","az":40,"cn":0.090},{"s":"P","az":45,"cn":0.092},{"s":"P","az":50,"cn":0.096},{"s":"P","az":55,"cn":0.100},{"s":"P","az":60,"cn":0.103},{"s":"P","az":65,"cn":0.105},{"s":"P","az":70,"cn":0.104},{"s":"P","az":75,"cn":0.104},{"s":"P","az":80,"cn":0.106},{"s":"P","az":85,"cn":0.112},{"s":"P","az":90,"cn":0.117},{"s":"P","az":95,"cn":0.116},{"s":"P","az":100,"cn":0.114},{"s":"P","az":105,"cn":0.114},{"s":"P","az":110,"cn":0.114},{"s":"P","az":115,"cn":0.114},{"s":"P","az":120,"cn":0.115},{"s":"P","az":125,"cn":0.116},{"s":"P","az":130,"cn":0.118},{"s":"P","az":135,"cn":0.120},{"s":"P","az":140,"cn":0.122},{"s":"P","az":145,"cn":0.124},{"s":"P","az":150,"cn":0.126},{"s":"P","az":155,"cn":0.128},{"s":"P","az":160,"cn":0.129},{"s":"P","az":165,"cn":0.130},{"s":"P","az":170,"cn":0.131},{"s":"P","az":175,"cn":0.133},{"s":"P","az":180,"cn":0.138},{"s":"P","az":185,"cn":0.140},{"s":"P","az":190,"cn":0.139},{"s":"P","az":195,"cn":0.138},{"s":"P","az":200,"cn":0.136},{"s":"P","az":205,"cn":0.134},{"s":"P","az":210,"cn":0.130},{"s":"P","az":215,"cn":0.126},{"s":"P","az":220,"cn":0.120},{"s":"P","az":225,"cn":0.122},{"s":"P","az":230,"cn":0.123},{"s":"P","az":235,"cn":0.118},{"s":"P","az":240,"cn":0.112},{"s":"P","az":245,"cn":0.106},{"s":"P","az":250,"cn":0.098},{"s":"P","az":255,"cn":0.093},{"s":"P","az":260,"cn":0.090},{"s":"P","az":265,"cn":0.089},{"s":"P","az":270,"cn":0.091},{"s":"P","az":275,"cn":0.095},{"s":"P","az":280,"cn":0.093},{"s":"P","az":285,"cn":0.093},{"s":"P","az":290,"cn":0.093},{"s":"P","az":295,"cn":0.085},{"s":"P","az":300,"cn":0.070},{"s":"P","az":302,"cn":0.055},{"s":"P","az":305,"cn":0.047},{"s":"P","az":310,"cn":0.045},{"s":"P","az":315,"cn":0.048},{"s":"P","az":320,"cn":0.052},{"s":"P","az":325,"cn":0.050},{"s":"P","az":328,"cn":0.063},{"s":"P","az":330,"cn":0.070},{"s":"P","az":333,"cn":0.062},{"s":"P","az":336,"cn":0.068},{"s":"P","az":340,"cn":0.072},{"s":"P","az":345,"cn":0.077},{"s":"P","az":350,"cn":0.090},{"s":"P","az":355,"cn":0.105},{"s":"P","az":360,"cn":0.112},
      {"s":"R","az":0,"cn":0.142},{"s":"R","az":5,"cn":0.143},{"s":"R","az":10,"cn":0.144},{"s":"R","az":15,"cn":0.144},{"s":"R","az":20,"cn":0.140},{"s":"R","az":25,"cn":0.130},{"s":"R","az":30,"cn":0.115},{"s":"R","az":35,"cn":0.100},{"s":"R","az":38,"cn":0.097},{"s":"R","az":42,"cn":0.108},{"s":"R","az":46,"cn":0.118},{"s":"R","az":50,"cn":0.126},{"s":"R","az":54,"cn":0.120},{"s":"R","az":58,"cn":0.110},{"s":"R","az":62,"cn":0.125},{"s":"R","az":66,"cn":0.120},{"s":"R","az":70,"cn":0.115},{"s":"R","az":75,"cn":0.108},{"s":"R","az":78,"cn":0.105},{"s":"R","az":82,"cn":0.115},{"s":"R","az":86,"cn":0.125},{"s":"R","az":90,"cn":0.130},{"s":"R","az":95,"cn":0.133},{"s":"R","az":100,"cn":0.135},{"s":"R","az":105,"cn":0.138},{"s":"R","az":110,"cn":0.140},{"s":"R","az":115,"cn":0.143},{"s":"R","az":120,"cn":0.145},{"s":"R","az":125,"cn":0.148},{"s":"R","az":130,"cn":0.150},{"s":"R","az":135,"cn":0.152},{"s":"R","az":140,"cn":0.153},{"s":"R","az":145,"cn":0.155},{"s":"R","az":150,"cn":0.156},{"s":"R","az":155,"cn":0.154},{"s":"R","az":160,"cn":0.152},{"s":"R","az":165,"cn":0.151},{"s":"R","az":170,"cn":0.151},{"s":"R","az":175,"cn":0.151},{"s":"R","az":180,"cn":0.152},{"s":"R","az":185,"cn":0.151},{"s":"R","az":190,"cn":0.152},{"s":"R","az":195,"cn":0.150},{"s":"R","az":200,"cn":0.145},{"s":"R","az":205,"cn":0.138},{"s":"R","az":210,"cn":0.132},{"s":"R","az":215,"cn":0.130},{"s":"R","az":220,"cn":0.135},{"s":"R","az":225,"cn":0.140},{"s":"R","az":230,"cn":0.148},{"s":"R","az":235,"cn":0.152},{"s":"R","az":238,"cn":0.155},{"s":"R","az":242,"cn":0.145},{"s":"R","az":246,"cn":0.125},{"s":"R","az":250,"cn":0.105},{"s":"R","az":254,"cn":0.095},{"s":"R","az":258,"cn":0.092},{"s":"R","az":262,"cn":0.105},{"s":"R","az":265,"cn":0.143},{"s":"R","az":268,"cn":0.155},{"s":"R","az":270,"cn":0.148},{"s":"R","az":273,"cn":0.125},{"s":"R","az":276,"cn":0.100},{"s":"R","az":278,"cn":0.092},{"s":"R","az":280,"cn":0.098},{"s":"R","az":283,"cn":0.125},{"s":"R","az":285,"cn":0.155},{"s":"R","az":287,"cn":0.180},{"s":"R","az":288,"cn":0.200},{"s":"R","az":290,"cn":0.190},{"s":"R","az":292,"cn":0.170},{"s":"R","az":294,"cn":0.155},{"s":"R","az":296,"cn":0.125},{"s":"R","az":298,"cn":0.085},{"s":"R","az":299,"cn":0.040},{"s":"R","az":300,"cn":0.020},{"s":"R","az":301,"cn":-0.005},{"s":"R","az":303,"cn":0.005},{"s":"R","az":305,"cn":0.036},{"s":"R","az":308,"cn":0.060},{"s":"R","az":312,"cn":0.080},{"s":"R","az":316,"cn":0.092},{"s":"R","az":320,"cn":0.100},{"s":"R","az":325,"cn":0.110},{"s":"R","az":330,"cn":0.120},{"s":"R","az":335,"cn":0.128},{"s":"R","az":340,"cn":0.136},{"s":"R","az":345,"cn":0.141},{"s":"R","az":350,"cn":0.141},{"s":"R","az":355,"cn":0.141},{"s":"R","az":360,"cn":0.140},
      {"s":"H","az":0,"cn":0.120},{"s":"H","az":3,"cn":0.124},{"s":"H","az":6,"cn":0.123},{"s":"H","az":10,"cn":0.120},{"s":"H","az":15,"cn":0.115},{"s":"H","az":20,"cn":0.110},{"s":"H","az":23,"cn":0.102},{"s":"H","az":26,"cn":0.093},{"s":"H","az":28,"cn":0.081},{"s":"H","az":30,"cn":0.075},{"s":"H","az":32,"cn":0.067},{"s":"H","az":34,"cn":0.076},{"s":"H","az":36,"cn":0.080},{"s":"H","az":38,"cn":0.088},{"s":"H","az":40,"cn":0.100},{"s":"H","az":43,"cn":0.106},{"s":"H","az":46,"cn":0.103},{"s":"H","az":48,"cn":0.096},{"s":"H","az":50,"cn":0.085},{"s":"H","az":52,"cn":0.081},{"s":"H","az":54,"cn":0.090},{"s":"H","az":56,"cn":0.108},{"s":"H","az":58,"cn":0.128},{"s":"H","az":60,"cn":0.118},{"s":"H","az":63,"cn":0.105},{"s":"H","az":66,"cn":0.100},{"s":"H","az":70,"cn":0.096},{"s":"H","az":74,"cn":0.094},{"s":"H","az":78,"cn":0.097},{"s":"H","az":82,"cn":0.102},{"s":"H","az":86,"cn":0.115},{"s":"H","az":89,"cn":0.125},{"s":"H","az":93,"cn":0.123},{"s":"H","az":97,"cn":0.118},{"s":"H","az":100,"cn":0.115},{"s":"H","az":105,"cn":0.113},{"s":"H","az":110,"cn":0.110},{"s":"H","az":115,"cn":0.109},{"s":"H","az":120,"cn":0.107},{"s":"H","az":125,"cn":0.108},{"s":"H","az":130,"cn":0.112},{"s":"H","az":135,"cn":0.118},{"s":"H","az":140,"cn":0.122},{"s":"H","az":145,"cn":0.123},{"s":"H","az":150,"cn":0.123},{"s":"H","az":155,"cn":0.123},{"s":"H","az":160,"cn":0.122},{"s":"H","az":165,"cn":0.120},{"s":"H","az":170,"cn":0.118},{"s":"H","az":175,"cn":0.120},{"s":"H","az":178,"cn":0.127},{"s":"H","az":182,"cn":0.133},{"s":"H","az":186,"cn":0.134},{"s":"H","az":190,"cn":0.134},{"s":"H","az":195,"cn":0.133},{"s":"H","az":200,"cn":0.130},{"s":"H","az":205,"cn":0.126},{"s":"H","az":208,"cn":0.120},{"s":"H","az":211,"cn":0.114},{"s":"H","az":214,"cn":0.118},{"s":"H","az":217,"cn":0.128},{"s":"H","az":220,"cn":0.140},{"s":"H","az":224,"cn":0.150},{"s":"H","az":228,"cn":0.150},{"s":"H","az":232,"cn":0.148},{"s":"H","az":236,"cn":0.146},{"s":"H","az":240,"cn":0.143},{"s":"H","az":245,"cn":0.137},{"s":"H","az":248,"cn":0.130},{"s":"H","az":252,"cn":0.120},{"s":"H","az":256,"cn":0.108},{"s":"H","az":259,"cn":0.102},{"s":"H","az":262,"cn":0.104},{"s":"H","az":265,"cn":0.112},{"s":"H","az":268,"cn":0.125},{"s":"H","az":271,"cn":0.135},{"s":"H","az":274,"cn":0.136},{"s":"H","az":276,"cn":0.128},{"s":"H","az":278,"cn":0.118},{"s":"H","az":281,"cn":0.105},{"s":"H","az":284,"cn":0.090},{"s":"H","az":287,"cn":0.078},{"s":"H","az":290,"cn":0.068},{"s":"H","az":293,"cn":0.060},{"s":"H","az":296,"cn":0.053},{"s":"H","az":300,"cn":0.047},{"s":"H","az":304,"cn":0.048},{"s":"H","az":308,"cn":0.050},{"s":"H","az":310,"cn":0.063},{"s":"H","az":312,"cn":0.085},{"s":"H","az":315,"cn":0.092},{"s":"H","az":320,"cn":0.091},{"s":"H","az":325,"cn":0.093},{"s":"H","az":330,"cn":0.088},{"s":"H","az":335,"cn":0.087},{"s":"H","az":340,"cn":0.082},{"s":"H","az":343,"cn":0.080},{"s":"H","az":346,"cn":0.092},{"s":"H","az":350,"cn":0.108},{"s":"H","az":355,"cn":0.110},{"s":"H","az":360,"cn":0.108}
    ],
    "f": [
      {"s":"P","az":0,"cn":0.115},{"s":"P","az":3,"cn":0.115},{"s":"P","az":6,"cn":0.108},{"s":"P","az":9,"cn":0.100},{"s":"P","az":12,"cn":0.095},{"s":"P","az":15,"cn":0.090},{"s":"P","az":18,"cn":0.083},{"s":"P","az":21,"cn":0.080},{"s":"P","az":25,"cn":0.076},{"s":"P","az":30,"cn":0.075},{"s":"P","az":35,"cn":0.074},{"s":"P","az":40,"cn":0.074},{"s":"P","az":45,"cn":0.074},{"s":"P","az":50,"cn":0.076},{"s":"P","az":55,"cn":0.080},{"s":"P","az":60,"cn":0.082},{"s":"P","az":65,"cn":0.080},{"s":"P","az":70,"cn":0.079},{"s":"P","az":75,"cn":0.078},{"s":"P","az":80,"cn":0.078},{"s":"P","az":85,"cn":0.078},{"s":"P","az":90,"cn":0.078},{"s":"P","az":95,"cn":0.078},{"s":"P","az":100,"cn":0.079},{"s":"P","az":105,"cn":0.079},{"s":"P","az":110,"cn":0.080},{"s":"P","az":115,"cn":0.081},{"s":"P","az":120,"cn":0.082},{"s":"P","az":125,"cn":0.084},{"s":"P","az":130,"cn":0.086},{"s":"P","az":135,"cn":0.090},{"s":"P","az":140,"cn":0.096},{"s":"P","az":145,"cn":0.101},{"s":"P","az":150,"cn":0.106},{"s":"P","az":155,"cn":0.111},{"s":"P","az":160,"cn":0.116},{"s":"P","az":165,"cn":0.120},{"s":"P","az":170,"cn":0.124},{"s":"P","az":175,"cn":0.130},{"s":"P","az":180,"cn":0.135},{"s":"P","az":185,"cn":0.137},{"s":"P","az":190,"cn":0.137},{"s":"P","az":195,"cn":0.135},{"s":"P","az":200,"cn":0.132},{"s":"P","az":205,"cn":0.127},{"s":"P","az":210,"cn":0.118},{"s":"P","az":215,"cn":0.110},{"s":"P","az":220,"cn":0.105},{"s":"P","az":225,"cn":0.103},{"s":"P","az":230,"cn":0.095},{"s":"P","az":235,"cn":0.085},{"s":"P","az":240,"cn":0.075},{"s":"P","az":245,"cn":0.067},{"s":"P","az":250,"cn":0.058},{"s":"P","az":255,"cn":0.050},{"s":"P","az":260,"cn":0.043},{"s":"P","az":265,"cn":0.038},{"s":"P","az":270,"cn":0.034},{"s":"P","az":275,"cn":0.042},{"s":"P","az":280,"cn":0.046},{"s":"P","az":285,"cn":0.047},{"s":"P","az":290,"cn":0.047},{"s":"P","az":295,"cn":0.050},{"s":"P","az":300,"cn":0.046},{"s":"P","az":305,"cn":0.037},{"s":"P","az":310,"cn":0.027},{"s":"P","az":313,"cn":0.030},{"s":"P","az":316,"cn":0.045},{"s":"P","az":320,"cn":0.055},{"s":"P","az":323,"cn":0.045},{"s":"P","az":326,"cn":0.055},{"s":"P","az":330,"cn":0.065},{"s":"P","az":335,"cn":0.080},{"s":"P","az":338,"cn":0.098},{"s":"P","az":342,"cn":0.095},{"s":"P","az":346,"cn":0.085},{"s":"P","az":350,"cn":0.085},{"s":"P","az":355,"cn":0.100},{"s":"P","az":358,"cn":0.112},{"s":"P","az":360,"cn":0.110},
      {"s":"R","az":0,"cn":0.165},{"s":"R","az":3,"cn":0.160},{"s":"R","az":6,"cn":0.150},{"s":"R","az":10,"cn":0.140},{"s":"R","az":15,"cn":0.133},{"s":"R","az":20,"cn":0.125},{"s":"R","az":25,"cn":0.117},{"s":"R","az":30,"cn":0.108},{"s":"R","az":35,"cn":0.100},{"s":"R","az":40,"cn":0.090},{"s":"R","az":45,"cn":0.087},{"s":"R","az":50,"cn":0.093},{"s":"R","az":55,"cn":0.100},{"s":"R","az":60,"cn":0.104},{"s":"R","az":65,"cn":0.100},{"s":"R","az":70,"cn":0.094},{"s":"R","az":75,"cn":0.090},{"s":"R","az":80,"cn":0.088},{"s":"R","az":85,"cn":0.087},{"s":"R","az":90,"cn":0.086},{"s":"R","az":95,"cn":0.088},{"s":"R","az":100,"cn":0.092},{"s":"R","az":105,"cn":0.097},{"s":"R","az":110,"cn":0.102},{"s":"R","az":115,"cn":0.108},{"s":"R","az":120,"cn":0.114},{"s":"R","az":125,"cn":0.120},{"s":"R","az":130,"cn":0.126},{"s":"R","az":135,"cn":0.133},{"s":"R","az":140,"cn":0.140},{"s":"R","az":145,"cn":0.145},{"s":"R","az":150,"cn":0.150},{"s":"R","az":155,"cn":0.154},{"s":"R","az":160,"cn":0.157},{"s":"R","az":165,"cn":0.160},{"s":"R","az":170,"cn":0.162},{"s":"R","az":175,"cn":0.163},{"s":"R","az":180,"cn":0.165},{"s":"R","az":185,"cn":0.166},{"s":"R","az":190,"cn":0.165},{"s":"R","az":195,"cn":0.162},{"s":"R","az":200,"cn":0.158},{"s":"R","az":205,"cn":0.152},{"s":"R","az":210,"cn":0.146},{"s":"R","az":215,"cn":0.140},{"s":"R","az":220,"cn":0.132},{"s":"R","az":225,"cn":0.125},{"s":"R","az":230,"cn":0.121},{"s":"R","az":235,"cn":0.123},{"s":"R","az":240,"cn":0.122},{"s":"R","az":245,"cn":0.117},{"s":"R","az":250,"cn":0.108},{"s":"R","az":255,"cn":0.090},{"s":"R","az":258,"cn":0.070},{"s":"R","az":261,"cn":0.040},{"s":"R","az":264,"cn":0.020},{"s":"R","az":267,"cn":0.005},{"s":"R","az":270,"cn":0.000},{"s":"R","az":273,"cn":0.010},{"s":"R","az":276,"cn":0.030},{"s":"R","az":279,"cn":0.043},{"s":"R","az":282,"cn":0.035},{"s":"R","az":284,"cn":0.010},{"s":"R","az":286,"cn":-0.020},{"s":"R","az":288,"cn":-0.060},{"s":"R","az":290,"cn":-0.062},{"s":"R","az":292,"cn":-0.055},{"s":"R","az":294,"cn":-0.040},{"s":"R","az":296,"cn":-0.020},{"s":"R","az":298,"cn":0.020},{"s":"R","az":300,"cn":0.050},{"s":"R","az":303,"cn":0.055},{"s":"R","az":306,"cn":0.050},{"s":"R","az":309,"cn":0.040},{"s":"R","az":312,"cn":0.030},{"s":"R","az":315,"cn":0.025},{"s":"R","az":318,"cn":0.022},{"s":"R","az":321,"cn":0.025},{"s":"R","az":325,"cn":0.035},{"s":"R","az":330,"cn":0.050},{"s":"R","az":335,"cn":0.070},{"s":"R","az":340,"cn":0.088},{"s":"R","az":343,"cn":0.110},{"s":"R","az":346,"cn":0.128},{"s":"R","az":350,"cn":0.140},{"s":"R","az":353,"cn":0.150},{"s":"R","az":356,"cn":0.158},{"s":"R","az":360,"cn":0.164},
      {"s":"H","az":0,"cn":0.162},{"s":"H","az":2,"cn":0.165},{"s":"H","az":4,"cn":0.158},{"s":"H","az":6,"cn":0.140},{"s":"H","az":8,"cn":0.120},{"s":"H","az":11,"cn":0.105},{"s":"H","az":14,"cn":0.090},{"s":"H","az":17,"cn":0.076},{"s":"H","az":20,"cn":0.072},{"s":"H","az":23,"cn":0.069},{"s":"H","az":27,"cn":0.071},{"s":"H","az":30,"cn":0.072},{"s":"H","az":33,"cn":0.076},{"s":"H","az":37,"cn":0.080},{"s":"H","az":40,"cn":0.083},{"s":"H","az":44,"cn":0.088},{"s":"H","az":48,"cn":0.095},{"s":"H","az":51,"cn":0.108},{"s":"H","az":54,"cn":0.112},{"s":"H","az":57,"cn":0.108},{"s":"H","az":60,"cn":0.100},{"s":"H","az":64,"cn":0.093},{"s":"H","az":68,"cn":0.088},{"s":"H","az":72,"cn":0.083},{"s":"H","az":76,"cn":0.080},{"s":"H","az":80,"cn":0.079},{"s":"H","az":85,"cn":0.078},{"s":"H","az":90,"cn":0.076},{"s":"H","az":95,"cn":0.077},{"s":"H","az":100,"cn":0.078},{"s":"H","az":105,"cn":0.078},{"s":"H","az":110,"cn":0.080},{"s":"H","az":115,"cn":0.083},{"s":"H","az":120,"cn":0.085},{"s":"H","az":125,"cn":0.090},{"s":"H","az":130,"cn":0.096},{"s":"H","az":135,"cn":0.103},{"s":"H","az":140,"cn":0.110},{"s":"H","az":145,"cn":0.116},{"s":"H","az":150,"cn":0.122},{"s":"H","az":155,"cn":0.127},{"s":"H","az":160,"cn":0.130},{"s":"H","az":163,"cn":0.132},{"s":"H","az":167,"cn":0.128},{"s":"H","az":170,"cn":0.128},{"s":"H","az":175,"cn":0.135},{"s":"H","az":178,"cn":0.145},{"s":"H","az":182,"cn":0.150},{"s":"H","az":186,"cn":0.150},{"s":"H","az":190,"cn":0.149},{"s":"H","az":195,"cn":0.148},{"s":"H","az":200,"cn":0.145},{"s":"H","az":205,"cn":0.140},{"s":"H","az":210,"cn":0.132},{"s":"H","az":213,"cn":0.125},{"s":"H","az":216,"cn":0.115},{"s":"H","az":219,"cn":0.108},{"s":"H","az":222,"cn":0.110},{"s":"H","az":225,"cn":0.122},{"s":"H","az":228,"cn":0.127},{"s":"H","az":231,"cn":0.124},{"s":"H","az":234,"cn":0.118},{"s":"H","az":237,"cn":0.112},{"s":"H","az":240,"cn":0.105},{"s":"H","az":245,"cn":0.098},{"s":"H","az":250,"cn":0.090},{"s":"H","az":255,"cn":0.078},{"s":"H","az":258,"cn":0.065},{"s":"H","az":261,"cn":0.052},{"s":"H","az":264,"cn":0.046},{"s":"H","az":267,"cn":0.046},{"s":"H","az":270,"cn":0.058},{"s":"H","az":273,"cn":0.075},{"s":"H","az":276,"cn":0.078},{"s":"H","az":279,"cn":0.070},{"s":"H","az":282,"cn":0.060},{"s":"H","az":286,"cn":0.055},{"s":"H","az":290,"cn":0.048},{"s":"H","az":294,"cn":0.038},{"s":"H","az":298,"cn":0.020},{"s":"H","az":300,"cn":0.003},{"s":"H","az":303,"cn":-0.006},{"s":"H","az":306,"cn":-0.009},{"s":"H","az":309,"cn":0.000},{"s":"H","az":312,"cn":0.020},{"s":"H","az":315,"cn":0.030},{"s":"H","az":318,"cn":0.030},{"s":"H","az":321,"cn":0.022},{"s":"H","az":324,"cn":0.020},{"s":"H","az":327,"cn":0.023},{"s":"H","az":330,"cn":0.030},{"s":"H","az":333,"cn":0.040},{"s":"H","az":336,"cn":0.055},{"s":"H","az":340,"cn":0.060},{"s":"H","az":344,"cn":0.063},{"s":"H","az":348,"cn":0.070},{"s":"H","az":352,"cn":0.085},{"s":"H","az":355,"cn":0.100},{"s":"H","az":357,"cn":0.110},{"s":"H","az":359,"cn":0.135},{"s":"H","az":360,"cn":0.145}
    ]
  },
  "resolve": {"scale": {"color": "independent", "shape": "independent"}, "legend": {"color": "independent"}},
  "vconcat": [
    {
      "hconcat": [
        {
          "width": 373, "height": 269, "data": {"name": "a"},
          "layer": [
            {"mark": {"type": "point", "opacity": 0}, "transform": [{"filter": "false"}],
             "encoding": {
               "x": {"field": "az", "type": "quantitative", "axis": {"orient": "bottom", "labels": false, "title": null, "tickSize": -3, "maxExtent": 0, "values": [20,60,100,140,180,220,260,300,340]}},
               "y": {"field": "cn", "type": "quantitative", "axis": {"orient": "left", "labels": false, "title": null, "tickSize": -3, "maxExtent": 0, "values": [0.05,0.07,0.09,0.11,0.13,0.15,0.17]}}
             }},
            {"mark": {"type": "line", "strokeWidth": 1.5},
             "encoding": {
               "x": {"field": "az", "type": "quantitative", "scale": {"domain": [0, 360], "nice": false}, "axis": {"orient": "bottom", "title": "Azimuth(°)", "values": [0,40,80,120,160,200,240,280,320,360]}},
               "y": {"field": "cn", "type": "quantitative", "scale": {"domain": [0.04, 0.19], "nice": false, "zero": false}, "axis": {"orient": "left", "minExtent": 39, "maxExtent": 39, "title": "CₙM²(upper rotor)", "labelFontSize": 16, "values": [0.04,0.06,0.08,0.10,0.12,0.14,0.16,0.18], "format": ".2f"}},
               "color": {"field": "s", "type": "nominal", "scale": {"domain": ["P","R","H"], "range": ["#ee1111","#1f3fff","#000000"]},
                 "legend": {"title": null, "legendX": 95, "legendY": 208, "labelExpr": "datum.label == 'P' ? 'Present' : datum.label == 'R' ? 'PRASADUM' : 'Helios'",
                   "encode": {"symbols": {"update": {
                     "shape": {"signal": "datum.value == 'P' ? 'M-3,0H3M-0.75,-0.75H0.75V0.75H-0.75Z' : datum.value == 'R' ? 'M-3,0H3M0,-1L1,0L0,1L-1,0Z' : 'M-3,0H3M-0.8,0A0.8,0.8,0,1,0,0.8,0A0.8,0.8,0,1,0,-0.8,0Z'"},
                     "fill": {"signal": "datum.value == 'P' ? '#ee1111' : datum.value == 'R' ? '#1f3fff' : '#000000'"},
                     "stroke": {"signal": "datum.value == 'P' ? '#ee1111' : datum.value == 'R' ? '#1f3fff' : '#000000'"},
                     "fillOpacity": {"value": 1}, "opacity": {"value": 1}}}}}}
             }},
            {"mark": {"type": "point", "filled": true, "size": 40, "opacity": 1},
             "encoding": {
               "x": {"field": "az", "type": "quantitative", "axis": {"orient": "top", "labels": false, "title": null, "maxExtent": 0, "values": [0,40,80,120,160,200,240,280,320,360]}},
               "y": {"field": "cn", "type": "quantitative", "axis": {"orient": "right", "labels": false, "title": null, "maxExtent": 0, "values": [0.04,0.06,0.08,0.10,0.12,0.14,0.16,0.18]}},
               "color": {"field": "s", "type": "nominal", "legend": null},
               "shape": {"field": "s", "type": "nominal", "scale": {"domain": ["H","P","R"], "range": ["circle","square","diamond"]}, "legend": null}
             }}
          ],
          "resolve": {"axis": {"x": "independent", "y": "independent"}}
        },
        {
          "width": 371, "height": 272, "data": {"name": "b"},
          "layer": [
            {"mark": {"type": "point", "opacity": 0}, "transform": [{"filter": "false"}],
             "encoding": {
               "x": {"field": "az", "type": "quantitative", "axis": {"orient": "bottom", "labels": false, "title": null, "tickSize": -3, "maxExtent": 0, "values": [20,60,100,140,180,220,260,300,340]}},
               "y": {"field": "cn", "type": "quantitative", "axis": {"orient": "left", "labels": false, "title": null, "tickSize": -3, "maxExtent": 0, "values": [0.01,0.03,0.05,0.07,0.09,0.11,0.13,0.15]}}
             }},
            {"mark": {"type": "line", "strokeWidth": 1.5},
             "encoding": {
               "x": {"field": "az", "type": "quantitative", "scale": {"domain": [0, 360], "nice": false}, "axis": {"orient": "bottom", "title": "Azimuth(°)", "values": [0,40,80,120,160,200,240,280,320,360]}},
               "y": {"field": "cn", "type": "quantitative", "scale": {"domain": [0, 0.16], "nice": false, "zero": false}, "axis": {"orient": "left", "minExtent": 43, "maxExtent": 43, "title": "CₙM²(upper rotor)", "labelFontSize": 14.5, "values": [0,0.02,0.04,0.06,0.08,0.10,0.12,0.14,0.16], "format": ".2f"}},
               "color": {"field": "s", "type": "nominal", "scale": {"domain": ["P","R","H"], "range": ["#ee1111","#1f3fff","#000000"]},
                 "legend": {"title": null, "legendX": 90, "legendY": 200, "labelExpr": "datum.label == 'P' ? 'Present' : datum.label == 'R' ? 'PRASADUM' : 'Helios'",
                   "encode": {"symbols": {"update": {
                     "shape": {"signal": "datum.value == 'P' ? 'M-3,0H3M-0.75,-0.75H0.75V0.75H-0.75Z' : datum.value == 'R' ? 'M-3,0H3M0,-1L1,0L0,1L-1,0Z' : 'M-3,0H3M-0.8,0A0.8,0.8,0,1,0,0.8,0A0.8,0.8,0,1,0,-0.8,0Z'"},
                     "fill": {"signal": "datum.value == 'P' ? '#ee1111' : datum.value == 'R' ? '#1f3fff' : '#000000'"},
                     "stroke": {"signal": "datum.value == 'P' ? '#ee1111' : datum.value == 'R' ? '#1f3fff' : '#000000'"},
                     "fillOpacity": {"value": 1}, "opacity": {"value": 1}}}}}}
             }},
            {"mark": {"type": "point", "filled": true, "size": 40, "opacity": 1},
             "encoding": {
               "x": {"field": "az", "type": "quantitative", "axis": {"orient": "top", "labels": false, "title": null, "maxExtent": 0, "values": [0,40,80,120,160,200,240,280,320,360]}},
               "y": {"field": "cn", "type": "quantitative", "axis": {"orient": "right", "labels": false, "title": null, "maxExtent": 0, "values": [0,0.02,0.04,0.06,0.08,0.10,0.12,0.14,0.16]}},
               "color": {"field": "s", "type": "nominal", "legend": null},
               "shape": {"field": "s", "type": "nominal", "scale": {"domain": ["H","P","R"], "range": ["circle","square","diamond"]}, "legend": null}
             }}
          ],
          "resolve": {"axis": {"x": "independent", "y": "independent"}}
        },
        {
          "width": 374, "height": 269, "data": {"name": "c"},
          "layer": [
            {"mark": {"type": "point", "opacity": 0}, "transform": [{"filter": "false"}],
             "encoding": {
               "x": {"field": "az", "type": "quantitative", "axis": {"orient": "bottom", "labels": false, "title": null, "tickSize": -3, "maxExtent": 0, "values": [20,60,100,140,180,220,260,300,340]}},
               "y": {"field": "cn", "type": "quantitative", "axis": {"orient": "left", "labels": false, "title": null, "tickSize": -3, "maxExtent": 0, "values": [-0.07,-0.05,-0.03,-0.01,0.01,0.03,0.05,0.07,0.09,0.11,0.13,0.15,0.17]}}
             }},
            {"mark": {"type": "line", "strokeWidth": 1.5},
             "encoding": {
               "x": {"field": "az", "type": "quantitative", "scale": {"domain": [0, 360], "nice": false}, "axis": {"orient": "bottom", "title": "Azimuth(°)", "values": [0,40,80,120,160,200,240,280,320,360], "labelExpr": "datum.value == 200 ? '' : datum.label"}},
               "y": {"field": "cn", "type": "quantitative", "scale": {"domain": [-0.08, 0.19], "nice": false, "zero": false}, "axis": {"orient": "left", "minExtent": 39, "maxExtent": 39, "title": "CₙM²(upper rotor)", "labelFontSize": 14, "values": [-0.08,-0.06,-0.04,-0.02,0,0.02,0.04,0.06,0.08,0.10,0.12,0.14,0.16,0.18], "labelExpr": "datum.value == 0 ? '-0.00' : replace(format(datum.value, '.2f'), '−', '-')"}},
               "color": {"field": "s", "type": "nominal", "scale": {"domain": ["P","R","H"], "range": ["#ee1111","#1f3fff","#000000"]},
                 "legend": {"title": null, "legendX": 153, "legendY": 197, "labelExpr": "datum.label == 'P' ? 'Present' : datum.label == 'R' ? 'PRASADUM' : 'Helios'",
                   "encode": {"symbols": {"update": {
                     "shape": {"signal": "datum.value == 'P' ? 'M-3,0H3M-0.75,-0.75H0.75V0.75H-0.75Z' : datum.value == 'R' ? 'M-3,0H3M0,-1L1,0L0,1L-1,0Z' : 'M-3,0H3M-0.8,0A0.8,0.8,0,1,0,0.8,0A0.8,0.8,0,1,0,-0.8,0Z'"},
                     "fill": {"signal": "datum.value == 'P' ? '#ee1111' : datum.value == 'R' ? '#1f3fff' : '#000000'"},
                     "stroke": {"signal": "datum.value == 'P' ? '#ee1111' : datum.value == 'R' ? '#1f3fff' : '#000000'"},
                     "fillOpacity": {"value": 1}, "opacity": {"value": 1}}}}}}
             }},
            {"mark": {"type": "point", "filled": true, "size": 40, "opacity": 1},
             "encoding": {
               "x": {"field": "az", "type": "quantitative", "axis": {"orient": "top", "labels": false, "title": null, "maxExtent": 0, "values": [0,40,80,120,160,200,240,280,320,360]}},
               "y": {"field": "cn", "type": "quantitative", "axis": {"orient": "right", "labels": false, "title": null, "maxExtent": 0, "values": [-0.08,-0.06,-0.04,-0.02,0,0.02,0.04,0.06,0.08,0.10,0.12,0.14,0.16,0.18]}},
               "color": {"field": "s", "type": "nominal", "legend": null},
               "shape": {"field": "s", "type": "nominal", "scale": {"domain": ["H","P","R"], "range": ["circle","square","diamond"]}, "legend": null}
             }}
          ],
          "resolve": {"axis": {"x": "independent", "y": "independent"}}
        }
      ],
      "spacing": -4,
      "resolve": {"scale": {"color": "independent", "shape": "independent"}, "legend": {"color": "independent"}}
    },
    {
      "hconcat": [
        {
          "width": 375, "height": 271, "data": {"name": "d"},
          "title": {"text": "(a) μ=0.15", "orient": "bottom", "frame": "group", "anchor": "middle", "dx": -42, "offset": 20},
          "layer": [
            {"mark": {"type": "point", "opacity": 0}, "transform": [{"filter": "false"}],
             "encoding": {
               "x": {"field": "az", "type": "quantitative", "axis": {"orient": "bottom", "labels": false, "title": null, "tickSize": -3, "maxExtent": 0, "values": [20,60,100,140,180,220,260,300,340]}},
               "y": {"field": "cn", "type": "quantitative", "axis": {"orient": "left", "labels": false, "title": null, "tickSize": -3, "maxExtent": 0, "values": [0.01,0.03,0.05,0.07,0.09,0.11,0.13,0.15,0.17,0.19,0.21,0.23,0.25]}}
             }},
            {"mark": {"type": "line", "strokeWidth": 1.5},
             "encoding": {
               "x": {"field": "az", "type": "quantitative", "scale": {"domain": [0, 360], "nice": false}, "axis": {"orient": "bottom", "title": "Azimuth(°)", "values": [0,40,80,120,160,200,240,280,320,360]}},
               "y": {"field": "cn", "type": "quantitative", "scale": {"domain": [0, 0.26], "nice": false, "zero": false}, "axis": {"orient": "left", "minExtent": 33, "maxExtent": 33, "title": "CₙM²(lower rotor)", "labelFontSize": 14, "values": [0,0.02,0.04,0.06,0.08,0.10,0.12,0.14,0.16,0.18,0.20,0.22,0.24,0.26], "format": ".2f"}},
               "color": {"field": "s", "type": "nominal", "scale": {"domain": ["P","R","H"], "range": ["#ee1111","#1f3fff","#000000"]},
                 "legend": {"title": null, "legendX": 70, "legendY": 203, "labelExpr": "datum.label == 'P' ? 'Present' : datum.label == 'R' ? 'PRASADUM' : 'Helios'",
                   "encode": {"symbols": {"update": {
                     "shape": {"signal": "datum.value == 'P' ? 'M-3,0H3M-0.75,-0.75H0.75V0.75H-0.75Z' : datum.value == 'R' ? 'M-3,0H3M0,-1L1,0L0,1L-1,0Z' : 'M-3,0H3M-0.8,0A0.8,0.8,0,1,0,0.8,0A0.8,0.8,0,1,0,-0.8,0Z'"},
                     "fill": {"signal": "datum.value == 'P' ? '#ee1111' : datum.value == 'R' ? '#1f3fff' : '#000000'"},
                     "stroke": {"signal": "datum.value == 'P' ? '#ee1111' : datum.value == 'R' ? '#1f3fff' : '#000000'"},
                     "fillOpacity": {"value": 1}, "opacity": {"value": 1}}}}}}
             }},
            {"mark": {"type": "point", "filled": true, "size": 40, "opacity": 1},
             "encoding": {
               "x": {"field": "az", "type": "quantitative", "axis": {"orient": "top", "labels": false, "title": null, "maxExtent": 0, "values": [0,40,80,120,160,200,240,280,320,360]}},
               "y": {"field": "cn", "type": "quantitative", "axis": {"orient": "right", "labels": false, "title": null, "maxExtent": 0, "values": [0,0.02,0.04,0.06,0.08,0.10,0.12,0.14,0.16,0.18,0.20,0.22,0.24,0.26]}},
               "color": {"field": "s", "type": "nominal", "legend": null},
               "shape": {"field": "s", "type": "nominal", "scale": {"domain": ["H","P","R"], "range": ["circle","square","diamond"]}, "legend": null}
             }}
          ],
          "resolve": {"axis": {"x": "independent", "y": "independent"}}
        },
        {
          "width": 370, "height": 269, "data": {"name": "e"},
          "title": {"text": "(b) μ=0.27", "orient": "bottom", "frame": "group", "anchor": "middle", "dx": -7, "offset": 20},
          "layer": [
            {"mark": {"type": "point", "opacity": 0}, "transform": [{"filter": "false"}],
             "encoding": {
               "x": {"field": "az", "type": "quantitative", "axis": {"orient": "bottom", "labels": false, "title": null, "tickSize": -3, "maxExtent": 0, "values": [20,60,100,140,180,220,260,300,340]}},
               "y": {"field": "cn", "type": "quantitative", "axis": {"orient": "left", "labels": false, "title": null, "tickSize": -3, "maxExtent": 0, "values": [-0.01,0.01,0.03,0.05,0.07,0.09,0.11,0.13,0.15,0.17,0.19,0.21]}}
             }},
            {"mark": {"type": "line", "strokeWidth": 1.5},
             "encoding": {
               "x": {"field": "az", "type": "quantitative", "scale": {"domain": [0, 360], "nice": false}, "axis": {"orient": "bottom", "title": "Azimuth(°)", "values": [0,40,80,120,160,200,240,280,320,360], "labelExpr": "datum.value == 200 ? '' : datum.label"}},
               "y": {"field": "cn", "type": "quantitative", "scale": {"domain": [-0.03, 0.22], "nice": false, "zero": false}, "axis": {"orient": "left", "minExtent": 43, "maxExtent": 43, "title": "CₙM²(lower rotor)", "labelFontSize": 15, "values": [-0.02,0,0.02,0.04,0.06,0.08,0.10,0.12,0.14,0.16,0.18,0.20,0.22], "labelExpr": "replace(format(datum.value, '.2f'), '−', '-')"}},
               "color": {"field": "s", "type": "nominal", "scale": {"domain": ["P","R","H"], "range": ["#ee1111","#1f3fff","#000000"]},
                 "legend": {"title": null, "legendX": 59, "legendY": 197, "labelExpr": "datum.label == 'P' ? 'Present' : datum.label == 'R' ? 'PRASADUM' : 'Helios'",
                   "encode": {"symbols": {"update": {
                     "shape": {"signal": "datum.value == 'P' ? 'M-3,0H3M-0.75,-0.75H0.75V0.75H-0.75Z' : datum.value == 'R' ? 'M-3,0H3M0,-1L1,0L0,1L-1,0Z' : 'M-3,0H3M-0.8,0A0.8,0.8,0,1,0,0.8,0A0.8,0.8,0,1,0,-0.8,0Z'"},
                     "fill": {"signal": "datum.value == 'P' ? '#ee1111' : datum.value == 'R' ? '#1f3fff' : '#000000'"},
                     "stroke": {"signal": "datum.value == 'P' ? '#ee1111' : datum.value == 'R' ? '#1f3fff' : '#000000'"},
                     "fillOpacity": {"value": 1}, "opacity": {"value": 1}}}}}}
             }},
            {"mark": {"type": "point", "filled": true, "size": 40, "opacity": 1},
             "encoding": {
               "x": {"field": "az", "type": "quantitative", "axis": {"orient": "top", "labels": false, "title": null, "maxExtent": 0, "values": [0,40,80,120,160,200,240,280,320,360]}},
               "y": {"field": "cn", "type": "quantitative", "axis": {"orient": "right", "labels": false, "title": null, "maxExtent": 0, "values": [-0.02,0,0.02,0.04,0.06,0.08,0.10,0.12,0.14,0.16,0.18,0.20,0.22]}},
               "color": {"field": "s", "type": "nominal", "legend": null},
               "shape": {"field": "s", "type": "nominal", "scale": {"domain": ["H","P","R"], "range": ["circle","square","diamond"]}, "legend": null}
             }}
          ],
          "resolve": {"axis": {"x": "independent", "y": "independent"}}
        },
        {
          "width": 368, "height": 269, "data": {"name": "f"},
          "title": {"text": "(c) μ=0.41", "orient": "bottom", "frame": "group", "anchor": "middle", "dx": 48, "offset": 20},
          "layer": [
            {"mark": {"type": "point", "opacity": 0}, "transform": [{"filter": "false"}],
             "encoding": {
               "x": {"field": "az", "type": "quantitative", "axis": {"orient": "bottom", "labels": false, "title": null, "tickSize": -3, "maxExtent": 0, "values": [20,60,100,140,180,220,260,300,340]}},
               "y": {"field": "cn", "type": "quantitative", "axis": {"orient": "left", "labels": false, "title": null, "tickSize": -3, "maxExtent": 0, "values": [-0.07,-0.05,-0.03,-0.01,0.01,0.03,0.05,0.07,0.09,0.11,0.13,0.15,0.17]}}
             }},
            {"mark": {"type": "line", "strokeWidth": 1.5},
             "encoding": {
               "x": {"field": "az", "type": "quantitative", "scale": {"domain": [0, 360], "nice": false}, "axis": {"orient": "bottom", "title": "Azimuth(°)", "values": [0,40,80,120,160,200,240,280,320,360]}},
               "y": {"field": "cn", "type": "quantitative", "scale": {"domain": [-0.09, 0.19], "nice": false, "zero": false}, "axis": {"orient": "left", "minExtent": 37, "maxExtent": 37, "title": "CₙM²(lower rotor)", "labelFontSize": 14, "values": [-0.08,-0.06,-0.04,-0.02,0,0.02,0.04,0.06,0.08,0.10,0.12,0.14,0.16,0.18], "labelExpr": "replace(format(datum.value, '.2f'), '−', '-')"}},
               "color": {"field": "s", "type": "nominal", "scale": {"domain": ["P","R","H"], "range": ["#ee1111","#1f3fff","#000000"]},
                 "legend": {"title": null, "legendX": 48, "legendY": 196, "labelExpr": "datum.label == 'P' ? 'Present' : datum.label == 'R' ? 'PRASADUM' : 'Helios'",
                   "encode": {"symbols": {"update": {
                     "shape": {"signal": "datum.value == 'P' ? 'M-3,0H3M-0.75,-0.75H0.75V0.75H-0.75Z' : datum.value == 'R' ? 'M-3,0H3M0,-1L1,0L0,1L-1,0Z' : 'M-3,0H3M-0.8,0A0.8,0.8,0,1,0,0.8,0A0.8,0.8,0,1,0,-0.8,0Z'"},
                     "fill": {"signal": "datum.value == 'P' ? '#ee1111' : datum.value == 'R' ? '#1f3fff' : '#000000'"},
                     "stroke": {"signal": "datum.value == 'P' ? '#ee1111' : datum.value == 'R' ? '#1f3fff' : '#000000'"},
                     "fillOpacity": {"value": 1}, "opacity": {"value": 1}}}}}}
             }},
            {"mark": {"type": "point", "filled": true, "size": 40, "opacity": 1},
             "encoding": {
               "x": {"field": "az", "type": "quantitative", "axis": {"orient": "top", "labels": false, "title": null, "maxExtent": 0, "values": [0,40,80,120,160,200,240,280,320,360]}},
               "y": {"field": "cn", "type": "quantitative", "axis": {"orient": "right", "labels": false, "title": null, "maxExtent": 0, "values": [-0.08,-0.06,-0.04,-0.02,0,0.02,0.04,0.06,0.08,0.10,0.12,0.14,0.16,0.18]}},
               "color": {"field": "s", "type": "nominal", "legend": null},
               "shape": {"field": "s", "type": "nominal", "scale": {"domain": ["H","P","R"], "range": ["circle","square","diamond"]}, "legend": null}
             }}
          ],
          "resolve": {"axis": {"x": "independent", "y": "independent"}}
        }
      ],
      "spacing": -5,
      "resolve": {"scale": {"color": "independent", "shape": "independent"}, "legend": {"color": "independent"}}
    }
  ],
  "spacing": 31
}
